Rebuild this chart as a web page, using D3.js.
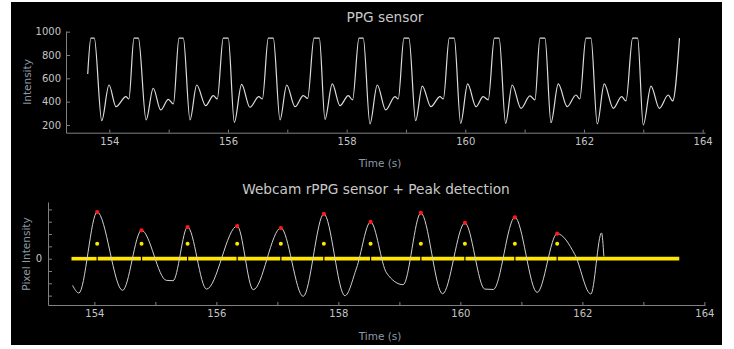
<!DOCTYPE html>
<html>
<head>
<meta charset="utf-8">
<script src="https://cdn.jsdelivr.net/npm/d3@7"></script>
<style>
  html, body { margin: 0; padding: 0; background: #ffffff; }
  svg { display: block; }
  .tick text { font-family: "DejaVu Sans", sans-serif; font-size: 10px; fill: #c4c4c4; }
  .domain, .tick line { stroke: #808080; }
</style>
</head>
<body>
<svg id="chart" width="734" height="349"></svg>
<script>
// ---- data ----

// top panel: contact PPG sensor (time s, intensity)
const ppgTime = [
  153.636, 153.690, 153.747, 153.872, 153.995, 154.113, 154.280, 154.330,
  154.416, 154.490, 154.620, 154.740, 154.866, 154.994, 155.080,
  155.175, 155.247, 155.360, 155.473, 155.625, 155.753, 155.820,
  155.920, 156.005, 156.107, 156.230, 156.370, 156.520, 156.580,
  156.680, 156.764, 156.877, 156.990, 157.130, 157.270, 157.343,
  157.450, 157.540, 157.635, 157.758, 157.888, 158.028, 158.100,
  158.208, 158.280, 158.393, 158.516, 158.658, 158.815, 158.870,
  158.966, 159.050, 159.163, 159.275, 159.420, 159.573, 159.630,
  159.730, 159.814, 159.922, 160.040, 160.180, 160.300, 160.387,
  160.490, 160.570, 160.680, 160.790, 160.938, 161.090, 161.174,
  161.258, 161.343, 161.444, 161.567, 161.718, 161.865, 161.930,
  162.033, 162.118, 162.224, 162.342, 162.494, 162.635, 162.708,
  162.820, 162.905, 162.999, 163.130, 163.270, 163.420, 163.495,
  163.610
];
const ppgValue = [
  637, 945, 945, 237, 543, 357, 443, 423,
  945, 945, 243, 515, 329, 420, 380,
  945, 945, 243, 543, 366, 452, 423,
  945, 945, 223, 549, 352, 443, 423,
  945, 945, 243, 543, 357, 452, 429,
  945, 945, 249, 552, 366, 452, 415,
  945, 945, 209, 543, 329, 443, 423,
  945, 945, 237, 534, 357, 443, 423,
  945, 945, 214, 552, 357, 443, 415,
  945, 945, 214, 543, 343, 449, 415,
  945, 945, 220, 552, 357, 457, 423,
  945, 945, 209, 552, 343, 443, 406,
  945, 945, 200, 534, 343, 457, 406,
  945
];

// bottom panel: webcam rPPG signal (time s, arbitrary pixel intensity)
const rppgTime = [
  153.643, 153.746, 154.046, 154.462, 154.773, 155.180, 155.290, 155.528,
  155.839, 156.341, 156.604, 157.057, 157.423, 157.762, 158.107, 158.298,
  158.528, 158.790, 159.062, 159.352, 159.708, 160.074, 160.400, 160.540,
  160.893, 161.259, 161.587, 161.877, 162.139, 162.314, 162.352
];
const rppgValue = [
  -2.17, -2.79, 3.79, -2.57, 2.30, -1.76, -1.79, 2.57,
  -2.47, 2.65, -2.52, 2.49, -3.06, 3.63, -3.01, -0.76,
  2.98, -1.16, -2.11, 3.71, -2.85, 2.90, -2.47, -2.50,
  3.36, -2.74, 2.03, 0.33, -2.87, 2.09, 0.19
];

// detected peaks
const peakTime = [154.046, 154.773, 155.528, 156.341, 157.057, 157.762, 158.528, 159.352, 160.074, 160.893, 161.587];
const peakValue = [3.79, 2.30, 2.57, 2.65, 2.49, 3.63, 2.98, 3.71, 2.90, 3.36, 2.03];
const markerLevel = 1.22;
const baselineStart = 153.615;
const baselineEnd = 163.598;

// ticks
const xTicks = [154, 155, 156, 157, 158, 159, 160, 161, 162, 163, 164];
const xLabelled = [154, 156, 158, 160, 162, 164];
const ppgTicks = [200, 400, 600, 800, 1000];
const rppgTicks = [-3, -2, -1, 0, 1, 2, 3, 4];
const rppgLabelled = [0];

// ---- drawing ----
const svg = d3.select("#chart");

svg.append("rect")
  .attr("x", 11).attr("y", 2)
  .attr("width", 711).attr("height", 343)
  .attr("fill", "#000000");

function xAxisFor(scale, g) {
  g.call(d3.axisBottom(scale)
      .tickValues(xTicks)
      .tickSizeInner(-3)
      .tickSizeOuter(0)
      .tickPadding(5)
      .tickFormat(d => xLabelled.includes(d) ? d : ""));
}

function title(text, x, y) {
  svg.append("text")
    .attr("x", x).attr("y", y)
    .attr("text-anchor", "middle")
    .style("font-family", "DejaVu Sans, sans-serif")
    .style("font-size", "13.7px")
    .style("fill", "#c8c8c8")
    .text(text);
}

function axisLabel(text, x, y, rotate) {
  svg.append("text")
    .attr("transform", "translate(" + x + "," + y + ")" + (rotate ? " rotate(-90)" : ""))
    .attr("text-anchor", "middle")
    .style("font-family", "DejaVu Sans, sans-serif")
    .style("font-size", "10.5px")
    .style("fill", "#8d99a6")
    .text(text);
}

/* ------------------------------
   TOP PANEL: PPG sensor
------------------------------ */

const xTop = d3.scaleLinear().domain([153.27, 164.04]).range([66, 705]);
const yTop = d3.scaleLinear().domain([134, 1005]).range([132.7, 31.1]);

svg.append("g")
  .attr("transform", "translate(0,132.7)")
  .call(g => xAxisFor(xTop, g));

svg.append("g")
  .attr("transform", "translate(66,0)")
  .call(d3.axisLeft(yTop)
    .tickValues(ppgTicks)
    .tickSizeInner(-4)
    .tickSizeOuter(0)
    .tickPadding(5)
    .tickFormat(d3.format("d")));

const ppgPoints = ppgTime.map((t, i) => [t, ppgValue[i]]);

svg.append("path")
  .datum(ppgPoints)
  .attr("fill", "none")
  .attr("stroke", "#dcdcdc")
  .attr("stroke-width", 1.2)
  .attr("d", d3.line()
    .x(d => xTop(d[0]))
    .y(d => yTop(d[1]))
    .curve(d3.curveMonotoneX));

title("PPG sensor", 385, 22);
axisLabel("Intensity", 31, 82, true);
axisLabel("Time (s)", 380, 167, false);

/* ------------------------------
   BOTTOM PANEL: webcam rPPG
------------------------------ */

const xBot = d3.scaleLinear().domain([153.24, 164.01]).range([48, 705]);
const yBot = d3.scaleLinear().domain([-3.76, 4.6]).range([305, 202]);

svg.append("g")
  .attr("transform", "translate(0,305)")
  .call(g => xAxisFor(xBot, g));

svg.append("g")
  .attr("transform", "translate(48,0)")
  .call(d3.axisLeft(yBot)
    .tickValues(rppgTicks)
    .tickSizeInner(-4)
    .tickSizeOuter(0)
    .tickPadding(6)
    .tickFormat(d => rppgLabelled.includes(d) ? d : ""));

// yellow zero line, broken at every detected peak
const cuts = [baselineStart].concat(peakTime, [baselineEnd]);
const segments = d3.pairs(cuts);

svg.append("g")
  .selectAll("line")
  .data(segments)
  .enter()
  .append("line")
  .attr("x1", d => xBot(d[0]) + 0.6)
  .attr("x2", d => xBot(d[1]) - 0.6)
  .attr("y1", yBot(0))
  .attr("y2", yBot(0))
  .attr("stroke", "#ffe600")
  .attr("stroke-width", 3.6);

const rppgPoints = rppgTime.map((t, i) => [t, rppgValue[i]]);

svg.append("path")
  .datum(rppgPoints)
  .attr("fill", "none")
  .attr("stroke", "#cfcfcf")
  .attr("stroke-width", 1)
  .attr("d", d3.line()
    .x(d => xBot(d[0]))
    .y(d => yBot(d[1]))
    .curve(d3.curveMonotoneX));

// yellow markers at the peak times
svg.append("g")
  .selectAll("circle")
  .data(peakTime)
  .enter()
  .append("circle")
  .attr("cx", d => xBot(d))
  .attr("cy", yBot(markerLevel))
  .attr("r", 2)
  .attr("fill", "#ffe600");

// red peak dots
svg.append("g")
  .selectAll("circle")
  .data(peakTime)
  .enter()
  .append("circle")
  .attr("cx", d => xBot(d))
  .attr("cy", (d, i) => yBot(peakValue[i]))
  .attr("r", 2.1)
  .attr("fill", "#ff1a1a");

title("Webcam rPPG sensor + Peak detection", 376, 194);
axisLabel("Pixel Intensity", 30, 254, true);
axisLabel("Time (s)", 380, 340, false);
</script>
</body>
</html>
